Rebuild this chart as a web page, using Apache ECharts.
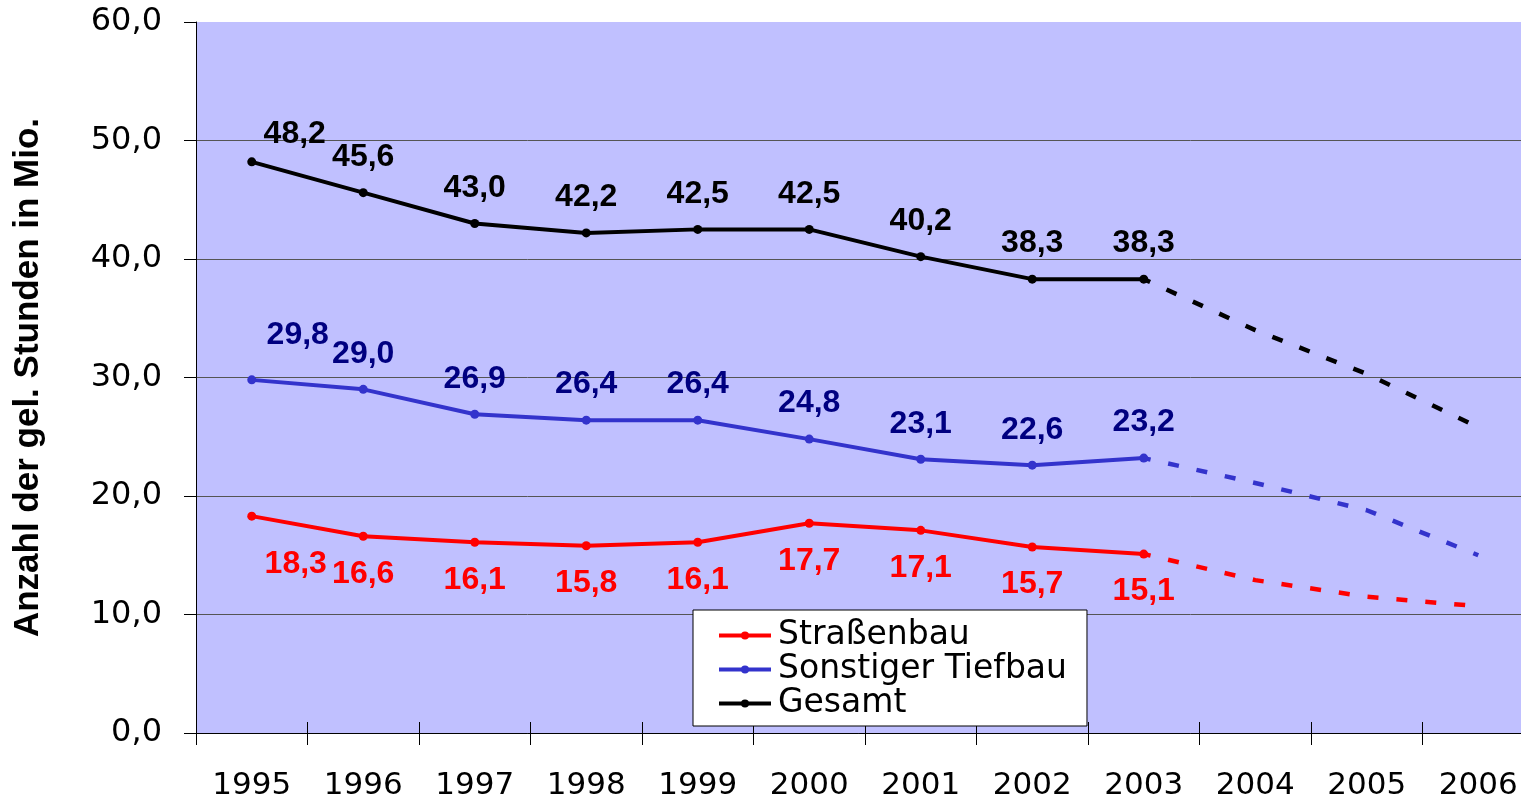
<!DOCTYPE html>
<html>
<head>
<meta charset="utf-8">
<script src="https://cdn.jsdelivr.net/npm/echarts@6/dist/echarts.min.js"></script>
<style>
html,body{margin:0;padding:0;background:#fff;}
#chart{width:1521px;height:803px;}
</style>
</head>
<body>
<div id="chart"></div>
<script>
var years = ['1995','1996','1997','1998','1999','2000','2001','2002','2003','2004','2005','2006'];
var strassenbau = [18.3, 16.6, 16.1, 15.8, 16.1, 17.7, 17.1, 15.7, 15.1];
var sonstiger = [29.8, 29.0, 26.9, 26.4, 26.4, 24.8, 23.1, 22.6, 23.2];
var gesamt = [48.2, 45.6, 43.0, 42.2, 42.5, 42.5, 40.2, 38.3, 38.3];
// projections (dashed)
var strassenbauProj = [null, null, null, null, null, null, null, null, 15.1, 12.9, 11.5, 10.7];
var sonstigerProj = [null, null, null, null, null, null, null, null, 23.2, 21.1, 18.8, 15.0];
var gesamtProj = [null, null, null, null, null, null, null, null, 38.3, 34.0, 30.3, 25.8];
var yTicks = [0, 10, 20, 30, 40, 50, 60];

function fmt(v){ return Number(v).toFixed(1).replace('.', ','); }

function withFirstOffset(arr, offset){
  return arr.map(function(v, i){
    if (i === 0) return {value: v, label: {offset: offset}};
    return v;
  });
}

var chart = echarts.init(document.getElementById('chart'), null, {renderer: 'canvas'});

var labelFontBase = {fontFamily: 'Liberation Sans, Arial, sans-serif', fontWeight: 'bold', fontSize: 32};

var option = {
  animation: false,
  backgroundColor: '#ffffff',
  grid: {
    left: 196, top: 22, width: 1338, height: 711,
    outerBoundsMode: 'none',
    containLabel: false,
    show: true, backgroundColor: '#C0C0FF', borderWidth: 0
  },
  legend: {
    orient: 'vertical',
    left: 693, top: 610,
    data: ['Straßenbau', 'Sonstiger Tiefbau', 'Gesamt'],
    backgroundColor: '#ffffff',
    borderColor: '#000000', borderWidth: 1, borderRadius: 0,
    padding: [9, 20, 6, 24],
    itemGap: 1,
    itemWidth: 52, itemHeight: 10,
    lineStyle: {width: 4},
    textStyle: {fontFamily: 'DejaVu Sans, sans-serif', fontSize: 33, color: '#000', lineHeight: 33, padding: [0,0,0,2]}
  },
  xAxis: [{
    type: 'category',
    data: years,
    boundaryGap: true,
    axisLine: {show: true, lineStyle: {color: '#000', width: 1}},
    axisTick: {show: true, length: 12, lineStyle: {color: '#000'}},
    axisLabel: {margin: 37, fontFamily: 'DejaVu Sans, sans-serif', fontSize: 31, color: '#000', interval: 0},
    splitLine: {show: false}
  }, {
    type: 'category',
    data: years,
    position: 'top',
    offset: -711,
    boundaryGap: true,
    axisLine: {show: false},
    axisTick: {show: true, inside: false, length: 11, lineStyle: {color: '#000'}},
    axisLabel: {show: false},
    splitLine: {show: false}
  }],
  yAxis: {
    type: 'value',
    min: 0, max: 60, interval: 10,
    name: 'Anzahl der gel. Stunden in Mio.',
    nameLocation: 'middle',
    nameGap: 150,
    nameRotate: 90,
    nameTextStyle: {fontFamily: 'Liberation Sans, Arial, sans-serif', fontWeight: 'bold', fontSize: 35, color: '#000'},
    axisLine: {show: true, lineStyle: {color: '#000', width: 1}},
    axisTick: {show: true, length: 12, lineStyle: {color: '#000'}},
    axisLabel: {margin: 34, fontFamily: 'DejaVu Sans, sans-serif', fontSize: 32, color: '#000',
      formatter: function(v){ return fmt(v); }},
    splitLine: {show: true, lineStyle: {color: ['#555','#555','#555','#555','#555','#555','rgba(0,0,0,0)'], width: 1}}
  },
  series: [
    {
      name: 'Straßenbau', type: 'line', xAxisIndex: 0,
      data: withFirstOffset(strassenbau, [44, 11]),
      color: '#FF0000',
      symbol: 'circle', symbolSize: 9,
      lineStyle: {color: '#FF0000', width: 4},
      itemStyle: {color: '#FF0000'},
      label: Object.assign({show: true, position: 'bottom', distance: 17, color: '#FF0000',
        formatter: function(p){ return fmt(p.value); }}, labelFontBase),
      z: 3
    },
    {
      name: 'Sonstiger Tiefbau', type: 'line', xAxisIndex: 0,
      data: withFirstOffset(sonstiger, [46, -9]),
      color: '#3333CC',
      symbol: 'circle', symbolSize: 9,
      lineStyle: {color: '#3333CC', width: 4},
      itemStyle: {color: '#3333CC'},
      label: Object.assign({show: true, position: 'top', distance: 15, color: '#000080',
        formatter: function(p){ return fmt(p.value); }}, labelFontBase),
      z: 3
    },
    {
      name: 'Gesamt', type: 'line', xAxisIndex: 0,
      data: withFirstOffset(gesamt, [43, 8]),
      color: '#000000',
      symbol: 'circle', symbolSize: 9,
      lineStyle: {color: '#000000', width: 4},
      itemStyle: {color: '#000000'},
      label: Object.assign({show: true, position: 'top', distance: 15, color: '#000000',
        formatter: function(p){ return fmt(p.value); }}, labelFontBase),
      z: 3
    },
    {
      name: 'Straßenbau Prognose', type: 'line', xAxisIndex: 0,
      data: strassenbauProj, showSymbol: false, symbol: 'none',
      lineStyle: {color: '#FF0000', width: 4.5, type: [11, 18], dashOffset: 4},
      z: 2
    },
    {
      name: 'Sonstiger Tiefbau Prognose', type: 'line', xAxisIndex: 0,
      data: sonstigerProj, showSymbol: false, symbol: 'none',
      lineStyle: {color: '#3333CC', width: 4.5, type: [11, 18], dashOffset: 4},
      z: 2
    },
    {
      name: 'Gesamt Prognose', type: 'line', xAxisIndex: 0,
      data: gesamtProj, showSymbol: false, symbol: 'none',
      lineStyle: {color: '#000000', width: 4.5, type: [11, 18], dashOffset: 4},
      z: 2
    }
  ]
};
chart.setOption(option);
</script>
</body>
</html>
